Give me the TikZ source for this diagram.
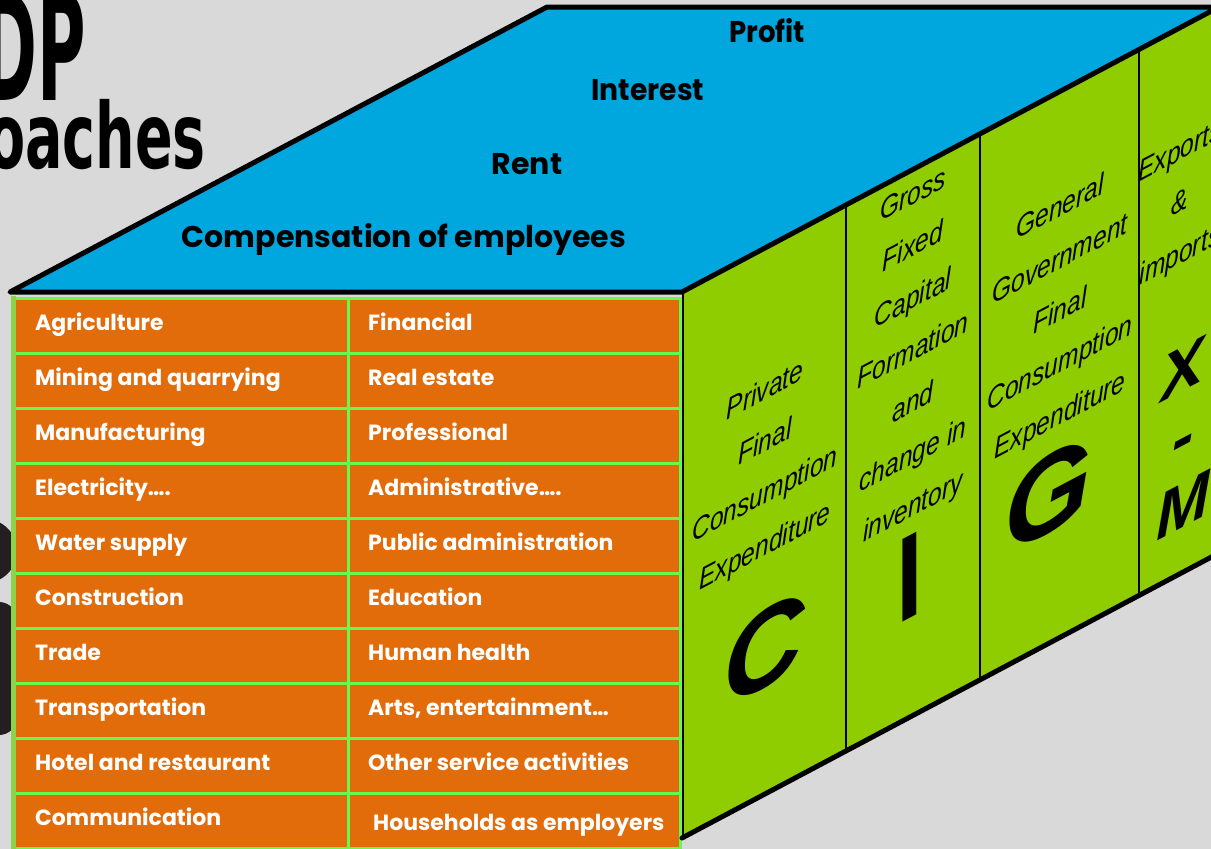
\documentclass[tikz,border=0pt]{standalone}
\usepackage{fontspec}
\setmainfont{Liberation Sans}
\newfontfamily\gothic{Poppins}
\newfontfamily\titlefont{DejaVu Sans}
\usetikzlibrary{calc}

\definecolor{bggray}{RGB}{217,217,217}
\definecolor{topblue}{RGB}{0,166,222}
\definecolor{sidegreen}{RGB}{143,205,0}
\definecolor{cellorange}{RGB}{227,108,10}
\definecolor{gridgreen}{RGB}{102,250,80}
\definecolor{edgegreen}{RGB}{140,210,75}
\definecolor{iconblack}{RGB}{35,31,32}

\tikzset{
	toplabel/.style={anchor=base, inner sep=0pt, font=\gothic\bfseries\fontsize{30}{30}\selectfont},
	cell/.style={anchor=base west, inner sep=0pt, text=white, font=\gothic\bfseries\fontsize{22}{22}\selectfont},
	sidetext/.style={align=center, inner sep=0pt, yslant=0.53, xscale=0.82, font=\itshape\fontsize{30}{52}\selectfont},
	bigletter/.style={align=center, inner sep=0pt, yslant=0.53, font=\bfseries\itshape\fontsize{112}{112}\selectfont},
}

\begin{document}
\begin{tikzpicture}[x=1pt, y=-1pt]
			\clip (0,0) rectangle (1211,849);
			\fill[bggray] (0,0) rectangle (1211,849);

			\node[anchor=base east, inner sep=0pt, xscale=0.45, font=\titlefont\bfseries\fontsize{147}{147}\selectfont] (gdp) at (86,100) {GDP};
			\node[anchor=base east, inner sep=0pt, xscale=0.61, font=\titlefont\bfseries\fontsize{91}{91}\selectfont] (approaches) at (206,168) {Approaches};

			\fill[iconblack] (-15,551) circle (32);
			\fill[iconblack, rounded corners=18] (-60,602) rectangle (17,735);

			\coordinate(A) at (10,292);
			\coordinate(B) at (682,292);
			\coordinate(C) at (682,838);
			\coordinate(E) at (547,7);
			\coordinate(F) at (1219,7);
			\coordinate(G) at (1219,553);

			\fill[topblue] (A) -- (B) -- (F) -- (E) -- cycle;
			\fill[sidegreen] (B) -- (F) -- (G) -- (C) -- cycle;

			\fill[cellorange] (14,297) rectangle (681,852);
			\foreach \y in {298,353,...,848}
				\draw[gridgreen, line width=3] (14,\y) -- (681,\y);
			\foreach \x in {348,680}
				\draw[gridgreen, line width=3] (\x,297) -- (\x,852);
			\draw[edgegreen, line width=5] (13.5,296) -- (13.5,852);

			\draw[line width=2] ($(B)!0.305!(F)$) -- ($(C)!0.305!(G)$);
			\draw[line width=2] ($(B)!0.555!(F)$) -- ($(C)!0.555!(G)$);
			\draw[line width=2] ($(B)!0.851!(F)$) -- ($(C)!0.851!(G)$);
			\draw[line width=1.5] (683,292) -- (683,838);
			\draw[line width=5, line join=round] (A) -- (B) -- (F) -- (E) -- cycle;
			\draw[line width=5, line cap=round] (C) -- (G);

			\node[toplabel, xscale=0.92] (profit) at (767,42) {Profit};
			\node[toplabel, xscale=0.94] (interest) at (648,100) {Interest};
			\node[toplabel] (rent) at (527,174) {Rent};
			\node[toplabel] (compensation) at (404,247) {Compensation of employees};

			\node[cell] (agriculture) at (35,330) {Agriculture};
			\node[cell] (mining) at (35,385) {Mining and quarrying};
			\node[cell] (manufacturing) at (35,440) {Manufacturing};
			\node[cell] (electricity) at (35,495) {Electricity….};
			\node[cell] (water) at (35,550) {Water supply};
			\node[cell] (construction) at (35,605) {Construction};
			\node[cell] (trade) at (35,660) {Trade};
			\node[cell] (transport) at (35,715) {Transportation};
			\node[cell] (hotel) at (35,770) {Hotel and restaurant};
			\node[cell] (communication) at (35,825) {Communication};
			\node[cell] (financial) at (368,330) {Financial};
			\node[cell] (realestate) at (368,385) {Real estate};
			\node[cell] (professional) at (368,440) {Professional};
			\node[cell] (administrative) at (368,495) {Administrative….};
			\node[cell] (publicadmin) at (368,550) {Public administration};
			\node[cell] (education) at (368,605) {Education};
			\node[cell] (health) at (368,660) {Human health};
			\node[cell] (arts) at (368,715) {Arts, entertainment…};
			\node[cell] (otherservice) at (368,770) {Other service activities};
			\node[cell] (households) at (373,830) {Households as employers};

			\node[sidetext] (private) at (765,470) {Private\\Final\\Consumption\\Expenditure};
			\node[sidetext] (gross) at (913,353) {Gross\\Fixed\\Capital\\Formation\\and\\change in\\inventory};
			\node[sidetext] (government) at (1060,313) {General\\Government\\Final\\Consumption\\Expenditure};
			\node[sidetext] (exports) at (1180,205) {Exports\\\&\\imports};

			\node[bigletter] (bigc) at (764,650) {C};
			\node[bigletter, font=\bfseries\fontsize{120}{120}\selectfont, xscale=0.8] (bigi) at (910,577) {I};
			\node[bigletter] (bigg) at (1048,495) {G};
			\node[bigletter, font=\bfseries\itshape\fontsize{64}{68}\selectfont] (xm) at (1183,437) {X\\-\\M};
		\end{tikzpicture}
\end{document}
